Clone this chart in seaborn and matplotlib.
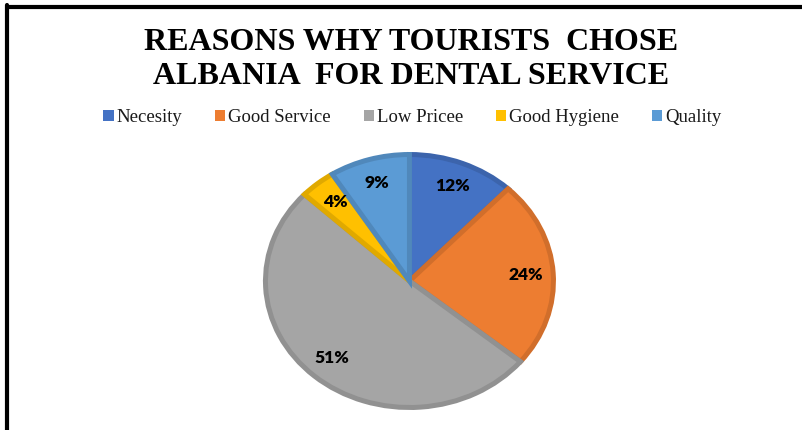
import matplotlib
matplotlib.use("Agg")
import matplotlib.pyplot as plt
import matplotlib.colors as mcolors
from matplotlib.patches import Patch
import seaborn as sns

# chart data
reasons = ['Necesity', 'Good Service', 'Low Pricee', 'Good Hygiene', 'Quality']
shares = [12, 24, 51, 4, 9]
colors = ['#4472C4', '#ED7D31', '#A5A5A5', '#FFC000', '#5B9BD5']

sns.set_style("white")


def darker(c, f=0.88):
    r, g, b = mcolors.to_rgb(c)
    return (r * f, g * f, b * f)


fig = plt.figure(figsize=(8.02, 4.30), dpi=100)

# frame lines on top and left, like the source screenshot
fig.add_artist(plt.Line2D([6.5 / 802, 1], [1 - 6.5 / 430, 1 - 6.5 / 430],
                          color='black', lw=3, transform=fig.transFigure))
fig.add_artist(plt.Line2D([6.5 / 802, 6.5 / 802], [0, 1 - 5 / 430],
                          color='black', lw=3, transform=fig.transFigure))

ax = fig.add_axes([0.2951, -0.0065, 0.4309, 0.706])
wedges, texts, autotexts = ax.pie(
    shares, colors=colors, startangle=90, counterclock=False,
    autopct='%1.0f%%', pctdistance=0.81,
    wedgeprops=dict(linewidth=3.6),
    textprops=dict(fontsize=12.5, fontweight='heavy', family='Lato', color='black'))
for w, c in zip(wedges, colors):
    w.set_edgecolor(darker(c))
ax.set_aspect('auto')
ax.set_xlim(-1.2, 1.2)
ax.set_ylim(-1.2, 1.2)
ax.axis('off')

fig.text(0.512, 0.862, 'REASONS WHY TOURISTS  CHOSE\nALBANIA  FOR DENTAL SERVICE',
         ha='center', va='center', fontsize=23, fontweight='bold',
         family='Liberation Serif', linespacing=1.2, color='black')

handles = [Patch(facecolor=c, edgecolor='none') for c in colors]
fig.legend(handles, reasons, loc='center', bbox_to_anchor=(0.514, 0.727),
           ncol=5, frameon=False, handlelength=0.55, handleheight=0.55,
           handletextpad=0.15, columnspacing=1.75, labelcolor='#1a1a1a',
           prop=dict(family='Liberation Serif', size=13.5))

fig.savefig('out.png', dpi=100)
